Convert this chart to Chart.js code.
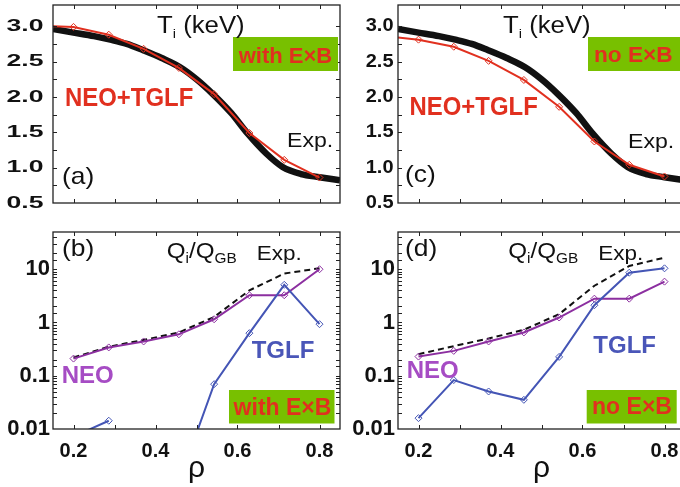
<!DOCTYPE html>
<html>
<head>
<meta charset="utf-8">
<script src="https://cdn.jsdelivr.net/npm/chart.js@4.4.1/dist/chart.umd.min.js"></script>
<style>
html,body{margin:0;padding:0;background:#fff;width:680px;height:487px;overflow:hidden}
canvas{position:absolute}
</style>
</head>
<body>
<canvas id="pa" width="345" height="215" style="left:0;top:0"></canvas>
<canvas id="pb" width="345" height="272" style="left:0;top:215px"></canvas>
<canvas id="pc" width="345" height="215" style="left:345px;top:0"></canvas>
<canvas id="pd" width="345" height="272" style="left:345px;top:215px"></canvas>
<script>
// radial grid of the simulations
const RHO = [0.2, 0.286, 0.371, 0.457, 0.543, 0.629, 0.714, 0.8];
// model T_i lines start at the left frame edge
const RHO_EDGE = [0.15, 0.2, 0.286, 0.371, 0.457, 0.543, 0.629, 0.714, 0.8];

// experimental T_i profile (keV), same for (a) and (c)
const RHO_EXP = [0.15, 0.2, 0.25, 0.29, 0.33, 0.37, 0.415, 0.46, 0.5, 0.54, 0.585, 0.625, 0.67, 0.71, 0.755, 0.8, 0.85];
const TI_EXP  = [2.96, 2.91, 2.86, 2.81, 2.75, 2.66, 2.55, 2.42, 2.25, 2.04, 1.77, 1.48, 1.20, 1.01, 0.91, 0.865, 0.82];

// NEO+TGLF predicted T_i (keV)
const TI_MODEL_EXB   = [3.0, 2.99, 2.88, 2.68, 2.41, 2.04, 1.49, 1.11, 0.86];
const TI_MODEL_NOEXB = [2.84, 2.81, 2.71, 2.51, 2.24, 1.86, 1.37, 1.04, 0.875];

// Q_i/Q_GB with E×B
const Q_EXP_EXB  = [0.22, 0.35, 0.47, 0.65, 1.27, 4.0, 8.3, 10.4];
const Q_NEO_EXB  = [0.21, 0.34, 0.44, 0.60, 1.15, 3.25, 3.25, 10.0];
const Q_TGLF_EXB = [0.0072, 0.0143, null, 0.001, 0.0695, 0.63, 5.1, 0.93];

// Q_i/Q_GB without E×B
const Q_EXP_NOEXB  = [0.254, 0.36, 0.5, 0.73, 1.43, 4.9, 11.5, 16.5];
const Q_NEO_NOEXB  = [0.229, 0.293, 0.44, 0.65, 1.24, 2.8, 2.8, 5.85];
const Q_TGLF_NOEXB = [0.016, 0.083, 0.0506, 0.0353, 0.226, 2.11, 8.6, 10.4];

// rho axis: ticks every 0.1, labels every 0.2
const X_TICKS = [0.2, 0.3, 0.4, 0.5, 0.6, 0.7, 0.8];
const X_LABELS = ["0.2", "", "0.4", "", "0.6", "", "0.8"];

const INK = "#111";
const RED = "#e1301f";
const PURPLE_LINE = "#8c2fa0", PURPLE_TXT = "#a64cc4";
const BLUE_LINE = "#4455b5", BLUE_TXT = "#4a56b8";
const GREEN = "#78c000";
const FONT = '"Liberation Sans", Arial, sans-serif';

// notes are in page pixels; [text, size, dy] parts
const PANELS = {
  pa: {ox: 0, oy: 0, ylab: {right: 43.5, sx: 1.33, sy: 0.85},
    boxes: [{x: 233, y: 37, w: 105, h: 34}],
    notes: [
      {x: 157, y: 33, sx: 1.12, parts: [["T", 23], ["i", 13, 5], [" (keV)", 23]]},
      {x: 285.5, y: 62.5, bold: true, color: RED, align: "center", parts: [["with E×B", 22]]},
      {x: 65, y: 106, bold: true, color: RED, sx: 0.92, parts: [["NEO+TGLF", 26]]},
      {x: 287, y: 146.5, sx: 1.1, parts: [["Exp.", 21]]},
      {x: 62, y: 183.5, sx: 1.1, parts: [["(a)", 24]]}
    ]},
  pc: {ox: 345, oy: 0, ylab: {right: 393.5, sx: 1.0, sy: 0.9},
    boxes: [{x: 588, y: 37, w: 110, h: 34}],
    notes: [
      {x: 503, y: 33, sx: 1.12, parts: [["T", 23], ["i", 13, 5], [" (keV)", 23]]},
      {x: 594, y: 61.7, bold: true, color: RED, sx: 1.03, parts: [["no E×B", 22]]},
      {x: 409.5, y: 115, bold: true, color: RED, sx: 0.92, parts: [["NEO+TGLF", 26]]},
      {x: 628, y: 147.5, sx: 1.1, parts: [["Exp.", 21]]},
      {x: 405, y: 182, sx: 1.1, parts: [["(c)", 24]]}
    ]},
  pb: {ox: 0, oy: 215,
    boxes: [{x: 229, y: 390, w: 105.5, h: 33.5}],
    notes: [
      {x: 62, y: 255.5, sx: 1.1, parts: [["(b)", 24]]},
      {x: 166.7, y: 258.3, sx: 1.1, parts: [["Q", 22], ["i", 14, 5], ["/Q", 22], ["GB", 14, 5]]},
      {x: 256.7, y: 260, sx: 1.07, parts: [["Exp.", 21]]},
      {x: 61.7, y: 383.3, bold: true, color: PURPLE_TXT, parts: [["NEO", 24]]},
      {x: 251.7, y: 358.3, bold: true, color: BLUE_TXT, parts: [["TGLF", 24]]},
      {x: 282.5, y: 415, bold: true, color: RED, align: "center", parts: [["with E×B", 23]]}
    ]},
  pd: {ox: 345, oy: 215,
    boxes: [{x: 586.7, y: 390, w: 90, h: 33.5}],
    notes: [
      {x: 405, y: 255.5, sx: 1.1, parts: [["(d)", 24]]},
      {x: 508.3, y: 258.3, sx: 1.1, parts: [["Q", 22], ["i", 14, 5], ["/Q", 22], ["GB", 14, 5]]},
      {x: 598.3, y: 259.5, sx: 1.07, parts: [["Exp.", 21]]},
      {x: 406.7, y: 378.3, bold: true, color: PURPLE_TXT, parts: [["NEO", 24]]},
      {x: 593.3, y: 353.3, bold: true, color: BLUE_TXT, parts: [["TGLF", 24]]},
      {x: 632, y: 414, bold: true, color: RED, align: "center", parts: [["no E×B", 23]]}
    ]}
};

function drawNote(ctx, n, ox, oy) {
  const w8 = n.bold ? "bold " : "";
  ctx.save();
  ctx.translate(n.x - ox, n.y - oy);
  ctx.scale(n.sx || 1, 1);
  ctx.fillStyle = n.color || INK;
  ctx.textBaseline = "alphabetic";
  ctx.textAlign = "left";
  let x = 0;
  if (n.align === "center") {
    let w = 0;
    n.parts.forEach(([t, s]) => { ctx.font = `${w8}${s}px ${FONT}`; w += ctx.measureText(t).width; });
    x = -w / 2;
  }
  n.parts.forEach(([t, s, dy]) => {
    ctx.font = `${w8}${s}px ${FONT}`;
    ctx.fillText(t, x, dy || 0);
    x += ctx.measureText(t).width;
  });
  ctx.restore();
}

const near = (a, b) => Math.abs(a - b) < 1e-6;

const decor = {
  id: "decor",
  afterDraw(chart) {
    const P = PANELS[chart.canvas.id];
    const {ctx, chartArea: ca} = chart;
    const xs = chart.scales.x, ys = chart.scales.y;
    ctx.save();
    // frame with inward ticks on all sides
    ctx.strokeStyle = "#222";
    ctx.lineWidth = 1.3;
    ctx.strokeRect(ca.left, ca.top, ca.right - ca.left, ca.bottom - ca.top);
    ctx.lineWidth = 1;
    ctx.beginPath();
    xs.ticks.forEach(t => {
      if (near(t.value, xs.min) || near(t.value, xs.max)) return;
      const px = Math.round(xs.getPixelForValue(t.value)) + 0.5;
      ctx.moveTo(px, ca.bottom); ctx.lineTo(px, ca.bottom - 4);
      ctx.moveTo(px, ca.top); ctx.lineTo(px, ca.top + 4);
    });
    ys.ticks.forEach(t => {
      if (near(t.value, ys.min) || near(t.value, ys.max)) return;
      const py = Math.round(ys.getPixelForValue(t.value)) + 0.5;
      ctx.moveTo(ca.left, py); ctx.lineTo(ca.left + 4, py);
      ctx.moveTo(ca.right, py); ctx.lineTo(ca.right - 4, py);
    });
    ctx.stroke();
    // y labels of the T_i panels are drawn stretched like in the figure
    if (P.ylab) {
      ctx.fillStyle = INK;
      ctx.font = `bold 20px ${FONT}`;
      ctx.textAlign = "right";
      ctx.textBaseline = "middle";
      ys.ticks.forEach(t => {
        if (!near(t.value * 2, Math.round(t.value * 2)) || t.value > 3.01) return;
        ctx.save();
        ctx.translate(P.ylab.right - P.ox, ys.getPixelForValue(t.value));
        ctx.scale(P.ylab.sx, P.ylab.sy);
        ctx.fillText(t.value.toFixed(1), 0, 0);
        ctx.restore();
      });
    }
    P.boxes.forEach(b => {
      ctx.fillStyle = GREEN;
      ctx.fillRect(b.x - P.ox, b.y - P.oy, b.w, b.h);
    });
    P.notes.forEach(n => drawNote(ctx, n, P.ox, P.oy));
    ctx.restore();
  }
};

function line(xs, ys, o) {
  return {
    data: xs.map((x, i) => ({x, y: ys[i]})),
    borderColor: o.color,
    borderWidth: o.width || 2,
    borderDash: o.dash || [],
    pointStyle: "rectRot",
    pointRadius: o.radius === undefined ? 3.5 : o.radius,
    pointBorderColor: o.color,
    pointBackgroundColor: "rgba(255,255,255,0)",
    pointBorderWidth: 1,
    cubicInterpolationMode: o.smooth ? "monotone" : "default",
    tension: 0,
    spanGaps: false,
    fill: false,
    clip: 0,
    order: o.order
  };
}

function makeChart(id, isTi, datasets) {
  const xAxis = {
    type: "linear", min: 0.15, max: 0.85,
    grid: {display: false, drawTicks: false},
    border: {display: false},
    afterBuildTicks: s => { s.ticks = X_TICKS.map(value => ({value})); },
    ticks: {
      display: !isTi, autoSkip: false, maxRotation: 0, padding: 10,
      color: INK, font: {family: FONT, size: 20, weight: "bold"},
      callback: (v, i) => X_LABELS[i]
    },
    title: {display: !isTi, text: "ρ", color: INK, font: {family: FONT, size: 30, lineHeight: 1}, padding: {top: 0, bottom: 3}},
    afterFit: s => { s.height = isTi ? 0 : 58; }
  };
  const yAxis = isTi ? {
    type: "linear", min: 0.5, max: 3.3,
    grid: {display: false, drawTicks: false},
    border: {display: false},
    ticks: {display: false, stepSize: 0.25},
    afterFit: s => { s.width = 53; }
  } : {
    type: "logarithmic", min: 0.01, max: 50,
    grid: {display: false, drawTicks: false},
    border: {display: false},
    ticks: {
      autoSkip: false, padding: 3, color: INK,
      font: {family: FONT, size: 22, weight: "bold"},
      callback: v => {
        const l = Math.log10(v);
        return near(l, Math.round(l)) ? (v >= 1 ? String(Math.round(v)) : String(+v.toPrecision(1))) : "";
      }
    },
    afterFit: s => { s.width = 53; }
  };
  return new Chart(document.getElementById(id), {
    type: "line",
    data: {datasets},
    options: {
      responsive: false, animation: false, devicePixelRatio: 1,
      layout: {padding: isTi ? {top: 5, right: 3, bottom: 12, left: 0} : {top: 17, right: 3, bottom: 0, left: 0}},
      plugins: {legend: {display: false}, tooltip: {enabled: false}},
      scales: {x: xAxis, y: yAxis}
    },
    plugins: [decor]
  });
}

const edgeMarks = RHO_EDGE.map((_, i) => i === 0 ? 0 : 3.5);

makeChart("pa", true, [
  line(RHO_EDGE, TI_MODEL_EXB, {color: RED, radius: edgeMarks, order: 1}),
  line(RHO_EXP, TI_EXP, {color: INK, width: 6.5, radius: 0, smooth: true, order: 2})
]);
makeChart("pc", true, [
  line(RHO_EDGE, TI_MODEL_NOEXB, {color: RED, radius: edgeMarks, order: 1}),
  line(RHO_EXP, TI_EXP, {color: INK, width: 6.5, radius: 0, smooth: true, order: 2})
]);
makeChart("pb", false, [
  line(RHO, Q_TGLF_EXB, {color: BLUE_LINE, order: 1}),
  line(RHO, Q_NEO_EXB, {color: PURPLE_LINE, order: 2}),
  line(RHO, Q_EXP_EXB, {color: INK, dash: [6, 4], radius: 0, order: 3})
]);
makeChart("pd", false, [
  line(RHO, Q_TGLF_NOEXB, {color: BLUE_LINE, order: 1}),
  line(RHO, Q_NEO_NOEXB, {color: PURPLE_LINE, order: 2}),
  line(RHO, Q_EXP_NOEXB, {color: INK, dash: [6, 4], radius: 0, order: 3})
]);
</script>
</body>
</html>
